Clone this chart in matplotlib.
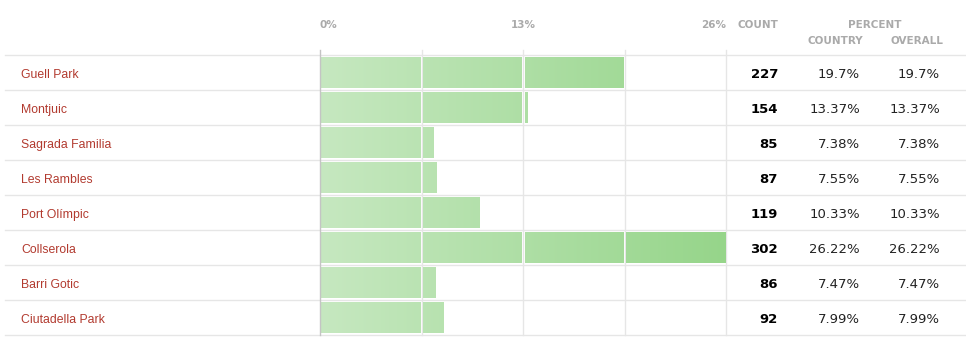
import matplotlib
matplotlib.use("Agg")
import matplotlib.pyplot as plt
import numpy as np
from matplotlib.transforms import blended_transform_factory
from matplotlib.colors import LinearSegmentedColormap

# data
places = ["Guell Park", "Montjuic", "Sagrada Familia", "Les Rambles",
          "Port Olímpic", "Collserola", "Barri Gotic", "Ciutadella Park"]
counts = [227, 154, 85, 87, 119, 302, 86, 92]
pct_country = [19.7, 13.37, 7.38, 7.55, 10.33, 26.22, 7.47, 7.99]
pct_overall = [19.7, 13.37, 7.38, 7.55, 10.33, 26.22, 7.47, 7.99]
tick_labels = ["0%", "13%", "26%"]
n_grid = 4

axis_max = max(pct_country)
grid_step = axis_max / n_grid

W, H = 966, 357
fig = plt.figure(figsize=(W / 100, H / 100), dpi=100)
fig.patch.set_facecolor("white")

# bar area: x 320..726 px, rows 55..335 px
ax = fig.add_axes([320 / W, (H - 335) / H, 406 / W, 280 / H])
ax.set_xlim(0, axis_max)
ax.set_ylim(len(places), 0)
ax.axis("off")

grid_col = "#e6e6e6"
hdr_col = "#aaaaaa"
name_col = "#b23a2f"

# vertical gridlines
for k in range(1, n_grid + 1):
    g = k * grid_step
    ax.plot([g, g], [-0.14, len(places)], color=grid_col, lw=1,
            clip_on=False, zorder=0)
ax.plot([0, 0], [-0.14, len(places)], color="#c4c4c4", lw=1,
        clip_on=False, zorder=3)

# row separators across the whole figure
trans = blended_transform_factory(fig.transFigure, ax.transData)
for r in range(len(places) + 1):
    ax.plot([5 / W, 1], [r, r], color=grid_col, lw=1, transform=trans,
            clip_on=False, zorder=0)

cmap = LinearSegmentedColormap.from_list("g", ["#c6e8c0", "#96d58a"])
grad = np.linspace(0, 1, 256).reshape(1, -1)
gap = 0.1
bar_h = 0.88

for i, v in enumerate(pct_country):
    edges = [0.0]
    k = 1
    while k * grid_step < v - 1e-9:
        edges.append(k * grid_step)
        k += 1
    edges.append(v)
    for a, b in zip(edges[:-1], edges[1:]):
        left = a + (gap if a > 0 else 0.06)
        right = b - (gap if b < v else 0.03)
        if right <= left:
            continue
        bars = ax.barh(i + 0.5, right - left, left=left, height=bar_h,
                       color="none", edgecolor="none")
        im = ax.imshow(grad, cmap=cmap, aspect="auto",
                       extent=[0, axis_max, i + 0.5 + bar_h / 2, i + 0.5 - bar_h / 2],
                       zorder=2)
        im.set_clip_path(bars.patches[0])

ax.set_xlim(0, axis_max)
ax.set_ylim(len(places), 0)

# header
hdr = dict(color=hdr_col, fontsize=7.5, fontweight="bold", va="baseline")
hy = 1 - 28 / H
hy2 = 1 - 44 / H
fig.text(320 / W, hy, tick_labels[0], ha="left", **hdr)
fig.text((320 + 406 / 2) / W, hy, tick_labels[1], ha="center", **hdr)
fig.text(726 / W, hy, tick_labels[2], ha="right", **hdr)
fig.text(778 / W, hy, "COUNT", ha="right", **hdr)
fig.text(875 / W, hy, "PERCENT", ha="center", **hdr)
fig.text(835 / W, hy2, "COUNTRY", ha="center", **hdr)
fig.text(917 / W, hy2, "OVERALL", ha="center", **hdr)

# row text
base = 0.16
for i, name in enumerate(places):
    y = i + 0.5 + base
    ax.text(21 / W, y, name, transform=trans, ha="left", va="baseline",
            color=name_col, fontsize=8.8, family="Liberation Sans")
    ax.text(778 / W, y, str(counts[i]), transform=trans, ha="right",
            va="baseline", color="black", fontsize=9.5, fontweight="bold")
    ax.text(860 / W, y, f"{pct_country[i]:g}%", transform=trans, ha="right",
            va="baseline", color="#222222", fontsize=9.5)
    ax.text(940 / W, y, f"{pct_overall[i]:g}%", transform=trans, ha="right",
            va="baseline", color="#222222", fontsize=9.5)

fig.savefig("out.png", dpi=100)
